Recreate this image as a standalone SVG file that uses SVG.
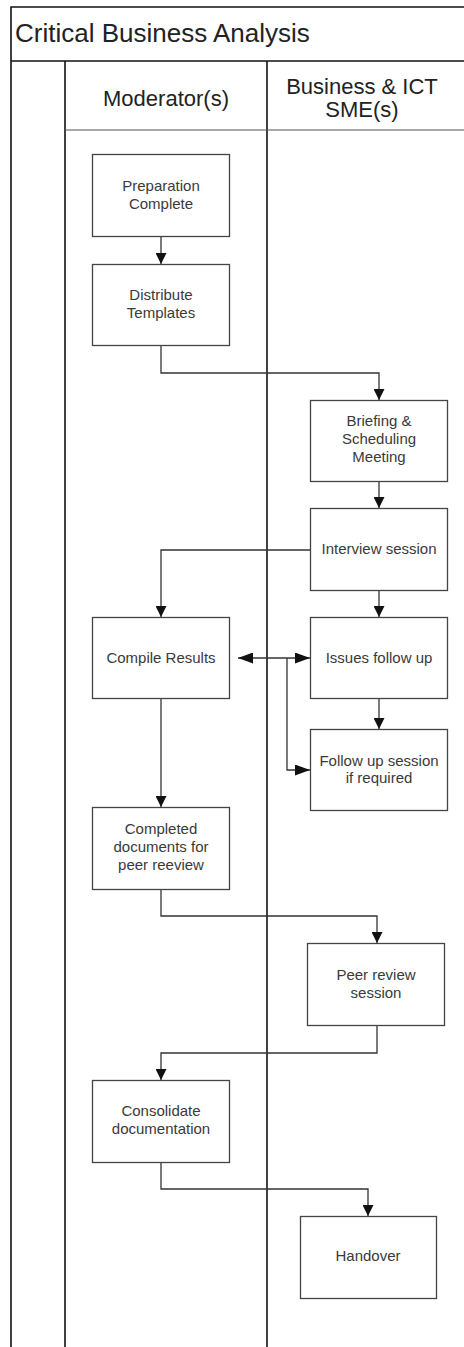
<svg xmlns="http://www.w3.org/2000/svg" width="464" height="1347" viewBox="0 0 464 1347">
  <style>
    .frame { stroke: #111; stroke-width: 1.6; fill: none; }
    .box { fill: #fff; stroke: #444; stroke-width: 1.3; }
    .lbl { font-family: "Liberation Sans", Arial, sans-serif; font-size: 15px; fill: #3a3a3a; text-anchor: middle; }
    .hdr { font-family: "Liberation Sans", Arial, sans-serif; font-size: 22px; fill: #222; text-anchor: middle; }
    .ttl { font-family: "Liberation Sans", Arial, sans-serif; font-size: 26px; fill: #222; }
    .conn { fill: none; stroke: #333; stroke-width: 1.3; }
  </style>
  <defs>
    <marker id="av" markerUnits="userSpaceOnUse" markerWidth="11" markerHeight="11" viewBox="0 0 11 11" refX="11" refY="5.5" orient="auto">
      <path d="M0 0 L11 5.5 L0 11 Z" fill="#111"/>
    </marker>
    <marker id="ah" markerUnits="userSpaceOnUse" markerWidth="15" markerHeight="11" viewBox="0 0 15 11" refX="15" refY="5.5" orient="auto-start-reverse">
      <path d="M0 0 L15 5.5 L0 11 Z" fill="#111"/>
    </marker>
  </defs>

  <rect width="464" height="1347" fill="#fff"/>

  <g id="pool">
    <path class="frame" d="M11 1347 V7 H465"/>
    <path class="frame" d="M11 61 H465"/>
    <path class="frame" d="M65 61 V1347"/>
    <path class="frame" d="M267 61 V1347"/>
    <path d="M65 130 H465" stroke="#555" stroke-width="1.2" fill="none"/>
    <text class="ttl" x="15" y="42">Critical Business Analysis</text>
  </g>

  <g id="lane-moderators">
    <text class="hdr" x="166" y="106">Moderator(s)</text>
  </g>
  <g id="lane-sme">
    <text class="hdr" x="362" y="94">Business &amp; ICT</text>
    <text class="hdr" x="362" y="117">SME(s)</text>
  </g>

  <g id="connectors">
    <path class="conn" d="M161 237 V264" marker-end="url(#av)"/>
    <path class="conn" d="M161 346 V373 H379 V400" marker-end="url(#av)"/>
    <path class="conn" d="M379 482 V508" marker-end="url(#av)"/>
    <path class="conn" d="M310 550 H161 V617" marker-end="url(#av)"/>
    <path class="conn" d="M379 591 V617" marker-end="url(#av)"/>
    <path class="conn" d="M238 658 H310" marker-start="url(#ah)" marker-end="url(#ah)"/>
    <path class="conn" d="M287 658 V770 H310" marker-end="url(#ah)"/>
    <path class="conn" d="M379 699 V729" marker-end="url(#av)"/>
    <path class="conn" d="M161 699 V807" marker-end="url(#av)"/>
    <path class="conn" d="M161 890 V916 H377 V943" marker-end="url(#av)"/>
    <path class="conn" d="M377 1026 V1053 H161 V1080" marker-end="url(#av)"/>
    <path class="conn" d="M161 1163 V1189 H368 V1216" marker-end="url(#av)"/>
  </g>

  <g id="preparation-complete">
    <rect class="box" x="92.5" y="154.5" width="137" height="82"/>
    <text class="lbl" x="161" y="191">Preparation</text>
    <text class="lbl" x="161" y="209">Complete</text>
  </g>
  <g id="distribute-templates">
    <rect class="box" x="92.5" y="264.5" width="137" height="81"/>
    <text class="lbl" x="161" y="300">Distribute</text>
    <text class="lbl" x="161" y="318">Templates</text>
  </g>
  <g id="briefing-meeting">
    <rect class="box" x="310.5" y="400.5" width="137" height="81"/>
    <text class="lbl" x="379" y="426">Briefing &amp;</text>
    <text class="lbl" x="379" y="444">Scheduling</text>
    <text class="lbl" x="379" y="462">Meeting</text>
  </g>
  <g id="interview-session">
    <rect class="box" x="310.5" y="508.5" width="137" height="82"/>
    <text class="lbl" x="379" y="554">Interview session</text>
  </g>
  <g id="compile-results">
    <rect class="box" x="92.5" y="617.5" width="137" height="81"/>
    <text class="lbl" x="161" y="663">Compile Results</text>
  </g>
  <g id="issues-follow-up">
    <rect class="box" x="310.5" y="617.5" width="137" height="81"/>
    <text class="lbl" x="379" y="663">Issues follow up</text>
  </g>
  <g id="follow-up-session">
    <rect class="box" x="310.5" y="729.5" width="137" height="81"/>
    <text class="lbl" x="379" y="766">Follow up session</text>
    <text class="lbl" x="379" y="783">if required</text>
  </g>
  <g id="completed-documents">
    <rect class="box" x="92.5" y="807.5" width="137" height="82"/>
    <text class="lbl" x="161" y="834">Completed</text>
    <text class="lbl" x="161" y="852">documents for</text>
    <text class="lbl" x="161" y="870">peer reeview</text>
  </g>
  <g id="peer-review-session">
    <rect class="box" x="307.5" y="943.5" width="137" height="82"/>
    <text class="lbl" x="376" y="980">Peer review</text>
    <text class="lbl" x="376" y="998">session</text>
  </g>
  <g id="consolidate-documentation">
    <rect class="box" x="92.5" y="1080.5" width="137" height="82"/>
    <text class="lbl" x="161" y="1116">Consolidate</text>
    <text class="lbl" x="161" y="1134">documentation</text>
  </g>
  <g id="handover">
    <rect class="box" x="300.5" y="1216.5" width="136" height="82"/>
    <text class="lbl" x="368" y="1261">Handover</text>
  </g>
</svg>
